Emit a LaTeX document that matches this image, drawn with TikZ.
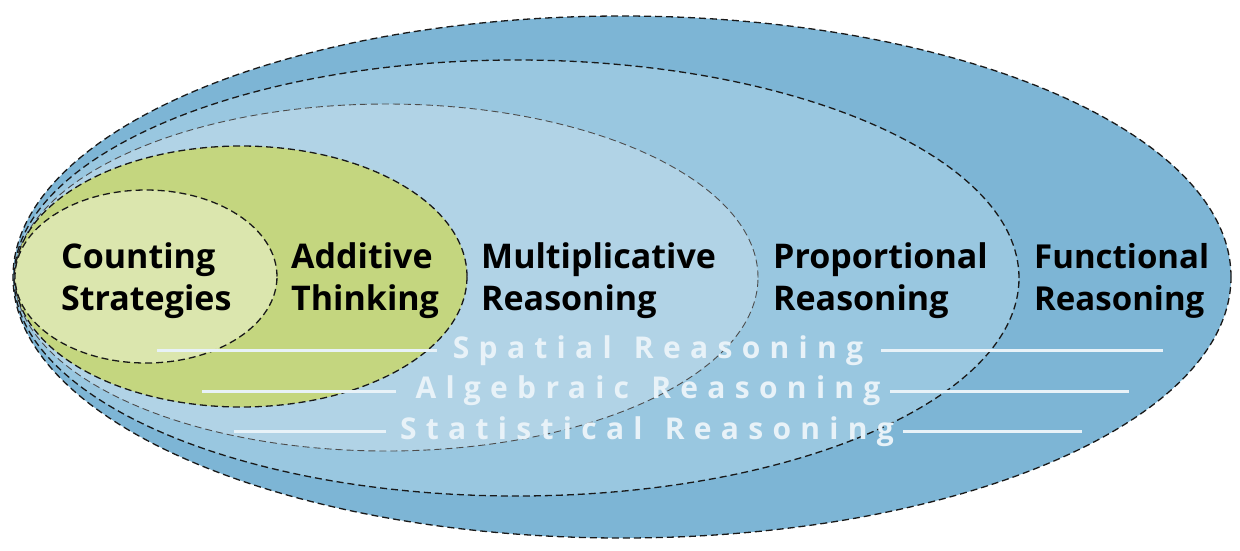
\documentclass[tikz,border=0pt]{standalone}
\usepackage{fontspec}
\setmainfont{Open Sans}
\newfontfamily\spaced{Open Sans}[LetterSpace=31,WordSpace=1.3]
\definecolor{cFun}{RGB}{125,181,213}
\definecolor{cPro}{RGB}{153,199,224}
\definecolor{cMul}{RGB}{177,211,230}
\definecolor{cAdd}{RGB}{196,214,127}
\definecolor{cCnt}{RGB}{219,230,174}
\definecolor{cTxt}{RGB}{232,242,248}
\begin{document}
\begin{tikzpicture}[x=1pt,y=-1pt,
  ring/.style={draw=black!90,line width=1.3pt,dash pattern=on 7pt off 4pt},
  thinring/.style={draw=black!70,line width=0.9pt,dash pattern=on 7pt off 4pt},
  lbl/.style={anchor=west,align=left,text=black,font=\fontsize{34}{42}\selectfont\bfseries,inner sep=0pt},
  strand/.style={text=cTxt,font=\spaced\fontsize{30}{32}\selectfont\bfseries,inner sep=0pt},
  strandline/.style={draw=cTxt,line width=3pt}]
\useasboundingbox (0,0) rectangle (1240,550);
% nested ellipses
\fill[cFun] (622,277) ellipse [x radius=609pt, y radius=261pt];
\draw[ring] (622,277) ellipse [x radius=609pt, y radius=261pt];
\fill[cPro] (516.5,278) ellipse [x radius=502.5pt, y radius=218pt];
\draw[ring] (516.5,278) ellipse [x radius=502.5pt, y radius=218pt];
\fill[cMul] (386.5,277.5) ellipse [x radius=371.5pt, y radius=173.5pt];
\draw[thinring] (386.5,277.5) ellipse [x radius=371.5pt, y radius=173.5pt];
\fill[cAdd] (241,276.5) ellipse [x radius=226pt, y radius=130.5pt];
\draw[ring] (241,276.5) ellipse [x radius=226pt, y radius=130.5pt];
\fill[cCnt] (146,276.5) ellipse [x radius=131pt, y radius=86.5pt];
\draw[ring] (146,276.5) ellipse [x radius=131pt, y radius=86.5pt];
% labels
\node[lbl] (cnt) at (61,281) {Counting\\Strategies};
\node[lbl] (add) at (291,281) {Additive\\Thinking};
\node[lbl] (mul) at (481,281) {Multiplicative\\Reasoning};
\node[lbl] (pro) at (773,281) {Proportional\\Reasoning};
\node[lbl,font=\fontsize{33}{42}\selectfont\bfseries] (fun) at (1034,281) {Functional\\Reasoning};
% strands
\node[strand] (spa) at (658,351) {Spatial Reasoning};
\node[strand] (alg) at (648,391) {Algebraic Reasoning};
\node[strand] (sta) at (647,432) {Statistical Reasoning};
\coordinate (spaL) at (157,350);
\coordinate (spaLe) at (437,350);
\coordinate (spaRs) at (881,350);
\coordinate (spaR) at (1163,350);
\coordinate (algL) at (202,391);
\coordinate (algLe) at (396,391);
\coordinate (algRs) at (890,391);
\coordinate (algR) at (1129,391);
\coordinate (staL) at (234,431);
\coordinate (staLe) at (386,431);
\coordinate (staRs) at (903,431);
\coordinate (staR) at (1082,431);
\draw[strandline] (spaL) -- (spaLe);
\draw[strandline] (spaRs) -- (spaR);
\draw[strandline] (algL) -- (algLe);
\draw[strandline] (algRs) -- (algR);
\draw[strandline] (staL) -- (staLe);
\draw[strandline] (staRs) -- (staR);
\end{tikzpicture}
\end{document}
